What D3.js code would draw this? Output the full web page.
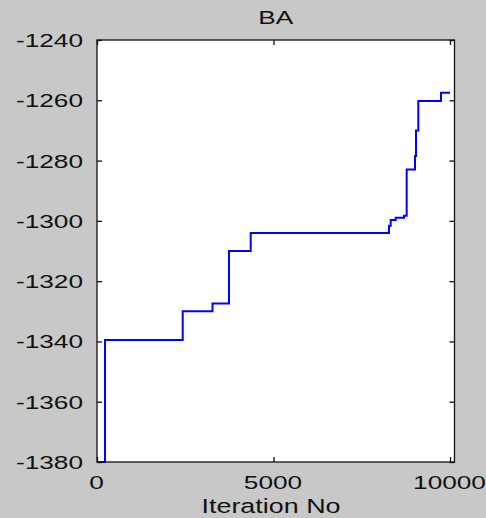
<!DOCTYPE html>
<html>
<head>
<meta charset="utf-8">
<script src="https://cdn.jsdelivr.net/npm/d3@7/dist/d3.min.js"></script>
<style>
  html, body { margin: 0; padding: 0; background: #c8c8c8; }
  svg { display: block; }
  text { font-family: "Liberation Sans", Arial, sans-serif; fill: #111; }
</style>
</head>
<body>
<svg id="chart" width="486" height="518"></svg>
<script>
// Best fitness found so far by the Bat Algorithm, per iteration (step values)
const iterations  = [0, 227, 2428, 3272, 3739, 4354, 8272, 8320, 8462, 8697, 8773, 9008, 9037, 9102, 9745, 10000];
const bestFitness = [-1380, -1339.5, -1330, -1327.4, -1310, -1304, -1301.6, -1299.7, -1299, -1298.3, -1283, -1278.5, -1270, -1260.2, -1257.5, -1257.5];

const xTicks = [0, 5000, 10000];
const yTicks = [-1380, -1360, -1340, -1320, -1300, -1280, -1260, -1240];
const xDomain = [0, 10000];
const yDomain = [-1380, -1240];

const titleText = "BA";
const xLabelText = "Iteration No";

// Layout
const plotLeft = 97, plotTop = 40, plotRight = 450, frameRight = 454.5, plotBottom = 462;
const textStretch = 1.38;   // wide tick font
const fontSize = 19;
const plainNumber = d => String(d);   // ASCII hyphen for negatives

const svg = d3.select("#chart");

const x = d3.scaleLinear().domain(xDomain).range([plotLeft, plotRight]);
const y = d3.scaleLinear().domain(yDomain).range([plotBottom, plotTop]);

// White plotting area
svg.append("rect")
  .attr("x", plotLeft).attr("y", plotTop)
  .attr("width", frameRight - plotLeft).attr("height", plotBottom - plotTop)
  .attr("fill", "#ffffff");

// Step line of the best fitness
const line = d3.line()
  .x((d, i) => x(iterations[i]))
  .y(d => y(d))
  .curve(d3.curveStepAfter);

svg.append("defs").append("clipPath").attr("id", "plotClip")
  .append("rect")
  .attr("x", plotLeft - 1).attr("y", plotTop)
  .attr("width", frameRight - plotLeft + 1).attr("height", plotBottom - plotTop + 1);

svg.append("path")
  .datum(bestFitness)
  .attr("clip-path", "url(#plotClip)")
  .attr("fill", "none")
  .attr("stroke", "#0000ff")
  .attr("stroke-width", 2)
  .attr("d", line);

// Axes: ticks point inward on all four sides
function styleAxis(g) {
  g.select(".domain").remove();
  g.selectAll(".tick line").attr("stroke", "#111").attr("stroke-width", 1.3);
}

const gLeft = svg.append("g")
  .attr("transform", `translate(${plotLeft},0)`)
  .call(d3.axisLeft(y).tickValues(yTicks).tickSize(-5).tickFormat(plainNumber));
styleAxis(gLeft);
gLeft.selectAll(".tick text")
  .attr("x", null).attr("dy", null)
  .attr("font-size", fontSize)
  .attr("text-anchor", "end")
  .attr("transform", `translate(-14,6.5) scale(${textStretch},1)`);

const gRight = svg.append("g")
  .attr("transform", `translate(${frameRight},0)`)
  .call(d3.axisRight(y).tickValues(yTicks).tickSize(-5).tickFormat(""));
styleAxis(gRight);

const gBottom = svg.append("g")
  .attr("transform", `translate(0,${plotBottom})`)
  .call(d3.axisBottom(x).tickValues(xTicks).tickSize(-5).tickFormat(plainNumber));
styleAxis(gBottom);
gBottom.selectAll(".tick text")
  .attr("y", null).attr("dy", null)
  .attr("font-size", fontSize)
  .attr("text-anchor", "middle")
  .attr("transform", `translate(-1,26.5) scale(${textStretch},1)`);

const gTop = svg.append("g")
  .attr("transform", `translate(0,${plotTop})`)
  .call(d3.axisTop(x).tickValues(xTicks).tickSize(-5).tickFormat(""));
styleAxis(gTop);

// Box frame
svg.append("rect")
  .attr("x", plotLeft).attr("y", plotTop)
  .attr("width", frameRight - plotLeft).attr("height", plotBottom - plotTop)
  .attr("fill", "none")
  .attr("stroke", "#111")
  .attr("stroke-width", 1.3);

// Title
svg.append("text")
  .attr("font-size", fontSize)
  .attr("text-anchor", "middle")
  .attr("transform", `translate(${(plotLeft + frameRight) / 2},24) scale(${textStretch},1)`)
  .text(titleText);

// X axis label
svg.append("text")
  .attr("font-size", fontSize + 0.5)
  .attr("text-anchor", "middle")
  .attr("transform", `translate(271,512.5) scale(${textStretch},1)`)
  .text(xLabelText);
</script>
</body>
</html>
